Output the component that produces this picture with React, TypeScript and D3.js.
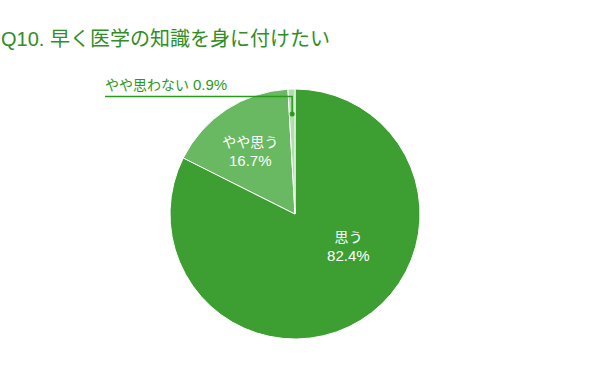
import React from "react";
import * as d3 from "d3";

const title = "Q10. 早く医学の知識を身に付けたい";
const categories = ["思う", "やや思う", "やや思わない"];
const values = [82.4, 16.7, 0.9];
const colors = ["#3d9f31", "#68b961", "#b1dcab"];
// where Google puts the inside labels: turn from slice middle (deg), distance (share of radius)
const labelTurn = [-27, -2, 0];
const labelDist = [0.5, 0.62, 0.8];

const width = 590;
const height = 390;
const cx = 295;
const cy = 214;
const radius = 125;
const font = "Arial, 'Liberation Sans', 'Noto Sans CJK JP', sans-serif";

type Datum = { label: string; value: number; color: string; turn: number; dist: number };

const App = () => {
  const data: Datum[] = categories.map((c, i) => ({
    label: c,
    value: values[i],
    color: colors[i],
    turn: labelTurn[i],
    dist: labelDist[i],
  }));

  const pie = d3
    .pie<Datum>()
    .value((d) => d.value)
    .sort(null);
  const arcs = pie(data);
  const arc = d3.arc<d3.PieArcDatum<Datum>>().innerRadius(0).outerRadius(radius);

  return (
    <svg width={width} height={height} style={{ position: "absolute", left: 0, top: 0 }}>
      <rect width={width} height={height} fill="#ffffff" />
      <text x={1} y={46} fontFamily={font} fontSize={20} fill="#2f8e24">
        {title}
      </text>
      <g transform={`translate(${cx},${cy})`}>
        {arcs.map((a, i) => (
          <path key={i} d={arc(a) || ""} fill={a.data.color} stroke="#ffffff" strokeWidth={1} />
        ))}
        {arcs.map((a, i) => {
          const pct = a.data.value.toFixed(1) + "%";
          const mid = (a.startAngle + a.endAngle) / 2;
          if (a.endAngle - a.startAngle < 0.2) {
            // small slice: leader line to an outside label
            const px = Math.sin(mid) * radius * a.data.dist;
            const py = -Math.cos(mid) * radius * a.data.dist;
            const ly = -117.5;
            const lx = -190;
            return (
              <g key={"l" + i}>
                <path
                  d={`M${px},${py}V${ly}H${lx}`}
                  fill="none"
                  stroke="#2a9a1c"
                  strokeWidth={1.5}
                />
                <circle cx={px} cy={py} r={2.5} fill="#2a9a1c" />
                <text x={lx} y={ly - 7} fontFamily={font} fontSize={14} fill="#2a9a1c">
                  {a.data.label}
                </text>
                <text x={lx + 88} y={ly - 7} fontFamily={font} fontSize={15} fill="#2a9a1c">
                  {pct}
                </text>
              </g>
            );
          }
          const ang = mid + (a.data.turn * Math.PI) / 180;
          const r = radius * a.data.dist;
          const x = Math.sin(ang) * r;
          const y = -Math.cos(ang) * r;
          return (
            <text
              key={"t" + i}
              x={x}
              y={y}
              textAnchor="middle"
              fontFamily={font}
              fill="#ffffff"
            >
              <tspan x={x} dy={-4} fontSize={14}>
                {a.data.label}
              </tspan>
              <tspan x={x} dy={19} fontSize={15}>
                {pct}
              </tspan>
            </text>
          );
        })}
      </g>
    </svg>
  );
};

export default App;
